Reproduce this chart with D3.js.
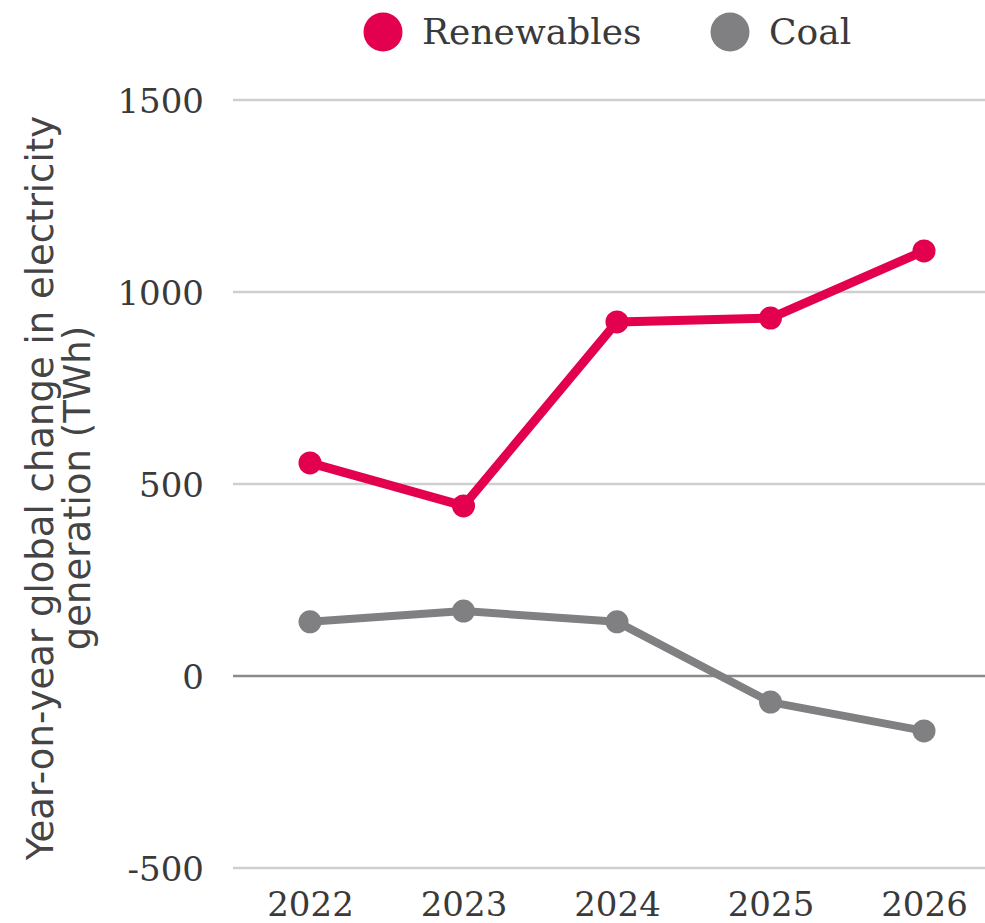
<!DOCTYPE html>
<html>
<head>
<meta charset="utf-8">
<script src="https://cdn.jsdelivr.net/npm/d3@7"></script>
<style>
  html, body { margin: 0; padding: 0; background: #fff; }
  svg { display: block; }
</style>
</head>
<body>
<script>
const years = ["2022", "2023", "2024", "2025", "2026"];
const renewables = [555, 443, 922, 932, 1107];
const coal = [141, 169, 141, -68, -143];
const yTicks = [-500, 0, 500, 1000, 1500];
const yTickLabels = ["-500", "0", "500", "1000", "1500"];
const seriesNames = ["Renewables", "Coal"];
const seriesColors = ["#e3004f", "#808083"];
const yTitleLines = ["Year-on-year global change in electricity", "generation (TWh)"];

const W = 985, H = 923;
const svg = d3.select("body").append("svg").attr("width", W).attr("height", H);

const x = d3.scalePoint().domain(years).range([310, 924]);
const y = d3.scaleLinear().domain([-500, 1500]).range([868, 100]);

const serif = "'DejaVu Serif', serif";
const sans = "'DejaVu Sans', sans-serif";
const textColor = "#3a3a3a";

// gridlines
const grid = svg.append("g");
grid.selectAll("line").data(yTicks).join("line")
  .attr("x1", 233).attr("x2", W)
  .attr("y1", d => y(d)).attr("y2", d => y(d))
  .attr("stroke", d => d === 0 ? "#8a8a8a" : "#cfcfcf")
  .attr("stroke-width", 2.5);

// y axis labels
const yAxis = d3.axisLeft(y).tickValues(yTicks).tickSize(0).tickPadding(0)
  .tickFormat((d, i) => yTickLabels[i]);
const yg = svg.append("g").attr("transform", "translate(204,0)").call(yAxis);
yg.select(".domain").remove();
yg.selectAll("text")
  .attr("font-family", serif).attr("font-size", 34).attr("fill", textColor)
  .attr("dy", "0.36em");

// x axis labels
const xAxis = d3.axisBottom(x).tickSize(0).tickPadding(0);
const xg = svg.append("g").attr("transform", "translate(0,916)").call(xAxis);
xg.select(".domain").remove();
xg.selectAll("text")
  .attr("font-family", serif).attr("font-size", 34).attr("fill", textColor)
  .attr("dy", 0);

// y title
const yt = svg.append("text")
  .attr("transform", "translate(0,488) rotate(-90)")
  .attr("text-anchor", "middle")
  .attr("font-family", sans).attr("font-size", 37).attr("fill", "#444");
yt.selectAll("tspan").data(yTitleLines).join("tspan")
  .attr("x", 0).attr("y", (d, i) => 53 + i * 37)
  .text(d => d);

// series
const data = [renewables, coal];
const line = d3.line().x((d, i) => x(years[i])).y(d => y(d));
[1, 0].forEach(s => {
  const g = svg.append("g");
  g.append("path").datum(data[s])
    .attr("d", line)
    .attr("fill", "none")
    .attr("stroke", seriesColors[s])
    .attr("stroke-width", s === 0 ? 9 : 8)
    .attr("stroke-linejoin", "round");
  g.selectAll("circle").data(data[s]).join("circle")
    .attr("cx", (d, i) => x(years[i]))
    .attr("cy", d => y(d))
    .attr("r", 11.5)
    .attr("fill", seriesColors[s]);
});

// legend
const legendX = [383, 730];
const lg = svg.append("g");
seriesNames.forEach((name, i) => {
  lg.append("circle").attr("cx", legendX[i]).attr("cy", 32).attr("r", 19.5).attr("fill", seriesColors[i]);
  lg.append("text").attr("x", legendX[i] + 39).attr("y", 44)
    .attr("font-family", serif).attr("font-size", 36).attr("fill", textColor)
    .text(name);
});
</script>
</body>
</html>
